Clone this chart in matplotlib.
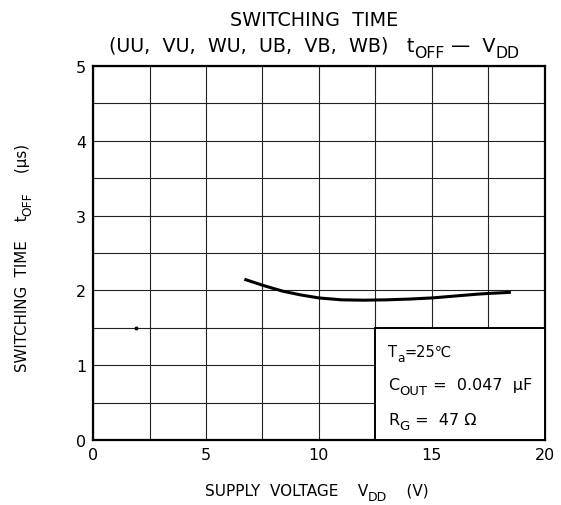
import matplotlib
matplotlib.use('Agg')
import matplotlib.pyplot as plt
from matplotlib.patches import Rectangle
from matplotlib.transforms import IdentityTransform

plt.rcParams['font.family'] = ['DejaVu Sans']

# curve
vdd = [6.7, 7.5, 8.4, 9.2, 10.0, 11.0, 12.0, 13.0, 14.0, 15.0, 16.0, 17.0, 17.5, 18.5]
toff = [2.15, 2.07, 1.99, 1.94, 1.90, 1.875, 1.87, 1.875, 1.885, 1.90, 1.925, 1.95, 1.96, 1.975]
dot_x = [1.9]
dot_y = [1.5]

fig = plt.figure(figsize=(5.61, 5.06), dpi=100)
ax = fig.add_axes([0.166, 0.128, 0.805, 0.740])


def pieces(x, y, parts, size, rot=0, align='center'):
    # draw text chunks in a row, subscripts ('_' prefix) smaller and lowered
    r = fig.canvas.get_renderer()
    items = []
    for s in parts:
        sub = s.startswith('_')
        t = fig.text(0, 0, s.lstrip('_'), fontsize=size * 0.82 if sub else size,
                     rotation=rot, rotation_mode='anchor', ha='left', va='baseline',
                     transform=IdentityTransform(), zorder=6)
        items.append((t, sub))
    sizes = []
    for t, sub in items:
        bb = t.get_window_extent(r)
        sizes.append(bb.width if rot == 0 else bb.height)
    pos = -sum(sizes) / 2 if align == 'center' else 0
    for (t, sub), w in zip(items, sizes):
        drop = size * 0.32 * 100 / 72 if sub else 0
        if rot == 0:
            t.set_position((x + pos, y - drop))
        else:
            t.set_position((x + drop, y + pos))
        pos += w


ax.plot(vdd, toff, color='black', lw=2.2, solid_capstyle='butt', zorder=4)
ax.plot(dot_x, dot_y, 'o', color='black', ms=1.8, zorder=4)

ax.set_xlim(0, 20)
ax.set_ylim(0, 5)
ax.set_xticks([0, 5, 10, 15, 20])
ax.set_yticks([0, 1, 2, 3, 4, 5])
ax.set_xticks([2.5, 7.5, 12.5, 17.5], minor=True)
ax.set_yticks([0.5, 1.5, 2.5, 3.5, 4.5], minor=True)
ax.grid(which='both', color='#222222', lw=0.8)
ax.tick_params(which='both', direction='in', length=0, labelsize=11.5, pad=5)
for s in ax.spines.values():
    s.set_linewidth(1.6)

# condition box
ax.add_patch(Rectangle((12.5, 0), 7.5, 1.5, facecolor='white', edgecolor='black', lw=1.4, zorder=3))

fig.canvas.draw()
H = 506
pieces(314, H - 26, ['SWITCHING  TIME'], 13.8)
pieces(314, H - 52, ['(UU,  VU,  WU,  UB,  VB,  WB)   t', '_OFF', ' \u2014  V', '_DD'], 13.8)
pieces(317, H - 496, ['SUPPLY  VOLTAGE    V', '_DD', '    (V)'], 11)
pieces(27, H - 258, ['SWITCHING  TIME    t', '_OFF', '    (μs)'], 10.8, rot=90)

px = ax.transData.transform
x0 = px((12.5, 0))[0] + 13
pieces(x0, H - 357, ['T', '_a', '=25℃'], 10.5, align='left')
pieces(x0, H - 390, ['C', '_OUT', ' =  0.047  μF'], 11.5, align='left')
pieces(x0, H - 425, ['R', '_G', ' =  47 Ω'], 11.5, align='left')

fig.savefig('out.png', dpi=100)
